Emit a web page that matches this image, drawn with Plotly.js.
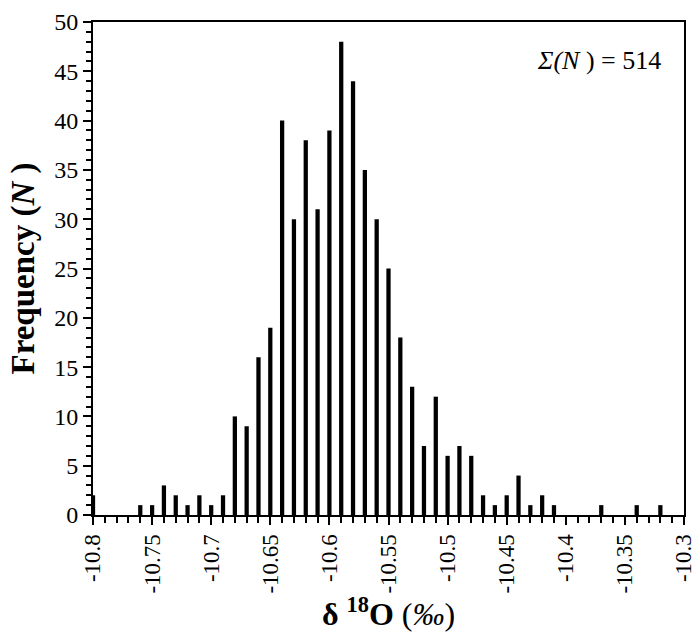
<!DOCTYPE html>
<html>
<head>
<meta charset="utf-8">
<script src="https://cdn.plot.ly/plotly-3.0.1.min.js"></script>
<style>html,body{margin:0;padding:0;background:#fff;}#chart{width:699px;height:632px;}</style>
</head>
<body>
<div id="chart"></div>
<script>
const delta18O = [-10.80, -10.76, -10.75, -10.74, -10.73, -10.72, -10.71, -10.70, -10.69,
  -10.68, -10.67, -10.66, -10.65, -10.64, -10.63, -10.62, -10.61, -10.60, -10.59, -10.58,
  -10.57, -10.56, -10.55, -10.54, -10.53, -10.52, -10.51, -10.50, -10.49, -10.48,
  -10.47, -10.46, -10.45, -10.44, -10.43, -10.42, -10.41, -10.37, -10.34, -10.32];
const frequency = [2, 1, 1, 3, 2, 1, 2, 1, 2,
  10, 9, 16, 19, 40, 30, 38, 31, 39, 48, 44,
  35, 30, 25, 18, 13, 7, 12, 6, 7, 6,
  2, 1, 2, 4, 1, 2, 1, 1, 1, 1];
const xTickVals = [-10.8, -10.75, -10.7, -10.65, -10.6, -10.55, -10.5, -10.45, -10.4, -10.35, -10.3];
const xTickText = ["-10.8", "-10.75", "-10.7", "-10.65", "-10.6", "-10.55", "-10.5", "-10.45", "-10.4", "-10.35", "-10.3"];
const totalLabel = "<i>Σ(N</i> ) = 514";

const serif = "Liberation Serif, Times New Roman, serif";

const trace = {
  type: "bar",
  x: delta18O,
  y: frequency,
  width: 0.0036,
  marker: {color: "#000", line: {width: 0}},
  hoverinfo: "x+y"
};

const layout = {
  width: 699, height: 632,
  margin: {l: 93, r: 15, t: 22, b: 117},
  paper_bgcolor: "#fff", plot_bgcolor: "#fff",
  showlegend: false,
  font: {family: serif, color: "#000", size: 23},
  xaxis: {
    range: [-10.8, -10.3],
    tickmode: "array", tickvals: xTickVals, ticktext: xTickText,
    ticks: "outside", ticklen: 8, tickwidth: 2, tickcolor: "#000",
    minor: {tickmode: "linear", dtick: 0.01, tick0: -10.8, ticks: "outside", ticklen: 6, tickwidth: 2, tickcolor: "#000", showgrid: false},
    tickangle: -90,
    tickfont: {family: serif, size: 23, color: "#000"},
    showline: true, linecolor: "#000", linewidth: 2, mirror: true,
    showgrid: false, zeroline: false,
    title: {text: "<b>δ <sup>18</sup>O</b> (<i>‰</i>)", font: {family: serif, size: 32, color: "#000"}, standoff: 0}
  },
  yaxis: {
    range: [0, 50],
    tick0: 0, dtick: 5,
    ticks: "outside", ticklen: 8, tickwidth: 2, tickcolor: "#000",
    minor: {dtick: 1, ticks: "outside", ticklen: 5, tickwidth: 2, tickcolor: "#000", showgrid: false},
    tickfont: {family: serif, size: 24, color: "#000"},
    showline: true, linecolor: "#000", linewidth: 2, mirror: true,
    showgrid: false, zeroline: false,
    title: {text: "<b>Frequency (<i>N</i> )</b>", font: {family: serif, size: 33, color: "#000"}, standoff: 10}
  },
  annotations: [{
    text: totalLabel,
    xref: "paper", yref: "paper",
    x: 0.964, y: 0.921, xanchor: "right", yanchor: "middle",
    showarrow: false,
    font: {family: serif, size: 26, color: "#000"}
  }]
};

Plotly.newPlot("chart", [trace], layout, {displayModeBar: false, staticPlot: true});
</script>
</body>
</html>
